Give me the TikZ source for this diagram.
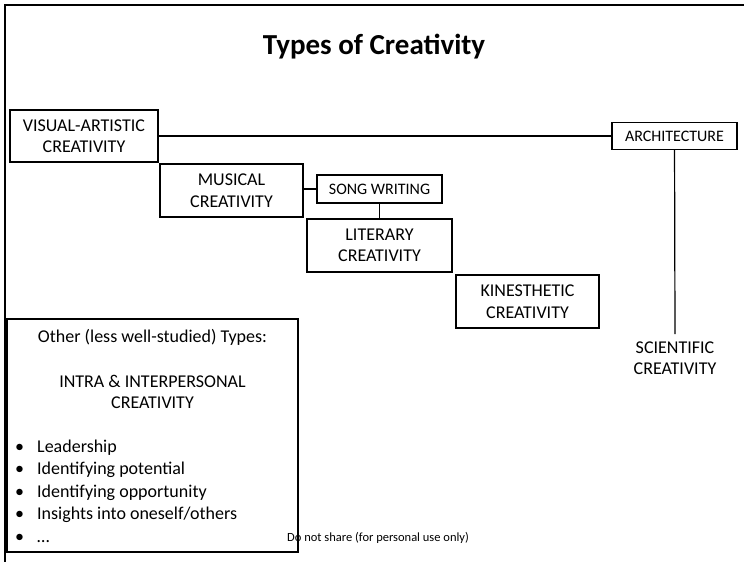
\documentclass[tikz,border=0pt]{standalone}
\usepackage{fontspec}
\setmainfont{Carlito}
\usetikzlibrary{positioning}

\begin{document}
\begin{tikzpicture}[x=1pt, y=-1pt,
		block/.style={rectangle, draw, line width=1.2pt, text centered, align=center, inner sep=0pt, minimum width=143pt, minimum height=53pt, font=\fontsize{18}{21.5}\selectfont},
		tag/.style={block, minimum width=125pt, minimum height=27pt, font=\fontsize{16}{19}\selectfont},
		plain/.style={align=center, inner sep=0pt, font=\fontsize{18}{21.5}\selectfont},
		line/.style={draw, line width=1.2pt}]
		
		\useasboundingbox (0,0) rectangle (744,562);
		\draw [line width=2pt] (5,562) -- (5,5) -- (744,5);
		
		\node [font=\fontsize{29}{33}\selectfont\bfseries] (title) at (374,47) {Types of Creativity};
		
		\node [block, minimum width=148pt, minimum height=52pt] (visual) at (84,136) {VISUAL-ARTISTIC\\CREATIVITY};
		\node [tag] (archi) at (674.5,136) {ARCHITECTURE};
		\node [plain] (scien) at (675,358) {SCIENTIFIC\\CREATIVITY};
		\node [block] (music) at (231.5,190.5) {MUSICAL\\CREATIVITY};
		\node [tag, minimum height=28pt] (song) at (379.5,189) {SONG WRITING};
		\node [block, minimum width=145pt] (liter) at (379.5,245.5) {LITERARY\\CREATIVITY};
		\node [block] (kines) at (527.5,301.5) {KINESTHETIC\\CREATIVITY};
		
		% Autres types
		\node [block, minimum width=291pt, minimum height=233pt] (other) at (152.5,435.5) {};
		\node [plain] (otitle) at (152.5,337) {Other (less well-studied) Types:};
		\node [plain] (inter) at (152.5,392) {INTRA \& INTERPERSONAL\\CREATIVITY};
		\node [plain, align=left, anchor=west, font=\fontsize{18}{22.5}\selectfont] (items) at (15,491)
			{\makebox[22pt][l]{\textbullet}Leadership\\
			 \makebox[22pt][l]{\textbullet}Identifying potential\\
			 \makebox[22pt][l]{\textbullet}Identifying opportunity\\
			 \makebox[22pt][l]{\textbullet}Insights into oneself/others\\
			 \makebox[22pt][l]{\textbullet}…};
		\node [plain, anchor=west, font=\fontsize{12.5}{15}\selectfont] (notice) at (287,538) {Do not share (for personal use only)};
		
		% Liens
		\path [line] (visual) -- (archi);
		\path [line] (archi) -- ([yshift=7pt]scien.north);
		\path [line] (music.east |- song) -- (song);
		\path [line] (song) -- (liter);
		
	\end{tikzpicture}
\end{document}
